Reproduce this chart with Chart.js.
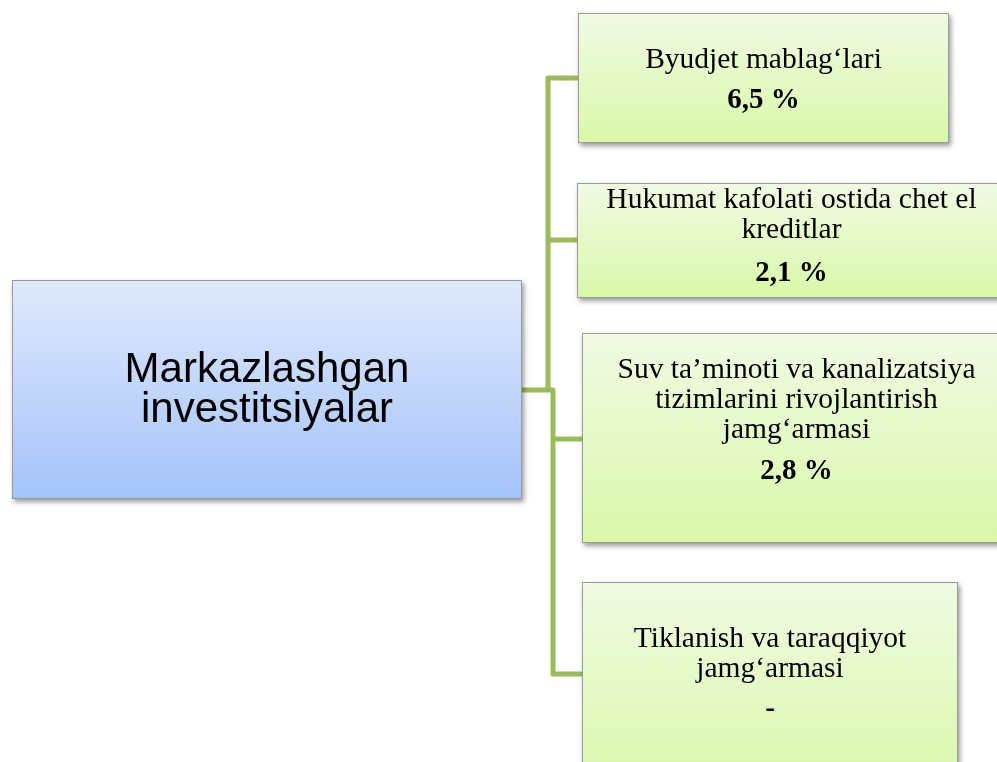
<!DOCTYPE html>
<html>
<head>
<meta charset="utf-8">
<script src="https://cdn.jsdelivr.net/npm/chart.js@4.4.1/dist/chart.umd.min.js"></script>
<style>
  html, body { margin: 0; padding: 0; background: #ffffff; overflow: hidden; }
  #wrap { width: 997px; height: 762px; }
</style>
</head>
<body>
<div id="wrap"><canvas id="orgChart" width="997" height="762"></canvas></div>
<script>
// ---------- Data ----------
const rootLabel = ['Markazlashgan', 'investitsiyalar'];

const sourceNames = [
  ['Byudjet mablag‘lari'],
  ['Hukumat kafolati ostida chet el', 'kreditlar'],
  ['Suv ta’minoti va kanalizatsiya', 'tizimlarini rivojlantirish', 'jamg‘armasi'],
  ['Tiklanish va taraqqiyot', 'jamg‘armasi']
];

// share, % (null = no data, shown as "-")
const sourceShares = [6.5, 2.1, 2.8, null];

// ---------- Layout (page units = pixels of the 997x762 sheet) ----------
const rootBox = { x0: 12, x1: 522, y0: 280, y1: 499, joinY: 390 };
const boxLayout = [
  { x0: 578, x1: 949,  y0: 13,  y1: 143, firstLine: 68,  gap: 40, joinY: 78,  spineX: 548 },
  { x0: 577, x1: 1006, y0: 183, y1: 298, firstLine: 208, gap: 43, joinY: 240, spineX: 548 },
  { x0: 582, x1: 1011, y0: 333, y1: 543, firstLine: 378, gap: 41, joinY: 439, spineX: 553 },
  { x0: 582, x1: 958,  y0: 582, y1: 790, firstLine: 647, gap: 40, joinY: 674, spineX: 553 }
];
const lineStep = 30;
const connectorColor = '#9bbb59';

// ---------- Helpers ----------
function fmtShare(v) {
  return v == null ? '-' : v.toFixed(1).replace('.', ',') + ' %';
}

function drawBox(ctx, xs, ys, b, top, bottom) {
  const x0 = xs.getPixelForValue(b.x0), x1 = xs.getPixelForValue(b.x1);
  const y0 = ys.getPixelForValue(b.y0), y1 = ys.getPixelForValue(b.y1);
  const g = ctx.createLinearGradient(0, y0, 0, y1);
  g.addColorStop(0, top);
  g.addColorStop(1, bottom);
  ctx.save();
  ctx.shadowColor = 'rgba(0,0,0,0.4)';
  ctx.shadowBlur = 5;
  ctx.shadowOffsetX = 2;
  ctx.shadowOffsetY = 3;
  ctx.fillStyle = g;
  ctx.fillRect(x0, y0, x1 - x0, y1 - y0);
  ctx.restore();
  ctx.save();
  ctx.strokeStyle = '#9a9a9a';
  ctx.lineWidth = 1;
  ctx.strokeRect(Math.round(x0) + 0.5, Math.round(y0) + 0.5, Math.round(x1 - x0) - 1, Math.round(y1 - y0) - 1);
  ctx.restore();
  return { x0, x1, y0, y1 };
}

// ---------- Plugin drawing the tree ----------
const orgTree = {
  id: 'orgTree',
  beforeDatasetsDraw(chart) {
    const { ctx, scales: { x, y } } = chart;
    const px = (v) => x.getPixelForValue(v);
    const py = (v) => y.getPixelForValue(v);

    // connectors
    ctx.save();
    ctx.strokeStyle = connectorColor;
    ctx.lineWidth = 5;
    ctx.lineJoin = 'round';
    ctx.lineCap = 'butt';
    const first = boxLayout[0], last = boxLayout[boxLayout.length - 1];
    // upper spine
    ctx.beginPath();
    ctx.moveTo(px(first.x0), py(first.joinY));
    ctx.lineTo(px(first.spineX), py(first.joinY));
    ctx.lineTo(px(first.spineX), py(rootBox.joinY) + 2);
    ctx.stroke();
    // root -> lower spine -> last
    ctx.beginPath();
    ctx.moveTo(px(rootBox.x1), py(rootBox.joinY));
    ctx.lineTo(px(last.spineX), py(rootBox.joinY));
    ctx.lineTo(px(last.spineX), py(last.joinY));
    ctx.lineTo(px(last.x0), py(last.joinY));
    ctx.stroke();
    // middle branches
    boxLayout.slice(1, -1).forEach((b) => {
      ctx.beginPath();
      ctx.moveTo(px(b.spineX), py(b.joinY));
      ctx.lineTo(px(b.x0), py(b.joinY));
      ctx.stroke();
    });
    ctx.restore();

    // root box
    const r = drawBox(ctx, x, y, rootBox, '#e0e9fc', '#a4c3fb');
    ctx.save();
    ctx.fillStyle = '#000';
    ctx.textAlign = 'center';
    ctx.textBaseline = 'alphabetic';
    ctx.font = '42px "Liberation Sans", Arial, sans-serif';
    const cx = (r.x0 + r.x1) / 2;
    rootLabel.forEach((t, i) => ctx.fillText(t, cx, py(382 + i * 40)));
    ctx.restore();

    // source boxes
    const names = chart.data.labels;
    const shares = chart.data.datasets[0].data;
    boxLayout.forEach((b, i) => {
      const bb = drawBox(ctx, x, y, b, '#f1fae3', '#d9f8a9');
      const mid = (bb.x0 + bb.x1) / 2;
      ctx.save();
      ctx.fillStyle = '#000';
      ctx.textAlign = 'center';
      ctx.textBaseline = 'alphabetic';
      ctx.font = '29.5px "Liberation Serif", "Times New Roman", serif';
      names[i].forEach((t, k) => ctx.fillText(t, mid, py(b.firstLine + k * lineStep)));
      ctx.font = 'bold 29px "Liberation Serif", "Times New Roman", serif';
      const lastLine = b.firstLine + (names[i].length - 1) * lineStep;
      ctx.fillText(fmtShare(shares[i].v), mid, py(lastLine + b.gap));
      ctx.restore();
    });
  }
};

// ---------- Chart ----------
const ctxMain = document.getElementById('orgChart').getContext('2d');
new Chart(ctxMain, {
  type: 'scatter',
  data: {
    labels: sourceNames,
    datasets: [{
      label: 'Ulush',
      data: sourceShares.map((v, i) => ({
        x: (boxLayout[i].x0 + boxLayout[i].x1) / 2,
        y: (boxLayout[i].y0 + boxLayout[i].y1) / 2,
        v: v
      })),
      pointRadius: 0,
      pointHoverRadius: 0
    }]
  },
  plugins: [orgTree],
  options: {
    responsive: false,
    animation: false,
    layout: { padding: 0 },
    scales: {
      x: { type: 'linear', min: 0, max: 997, display: false },
      y: { type: 'linear', min: 0, max: 762, reverse: true, display: false }
    },
    plugins: {
      legend: { display: false },
      tooltip: { enabled: false }
    }
  }
});
</script>
</body>
</html>
